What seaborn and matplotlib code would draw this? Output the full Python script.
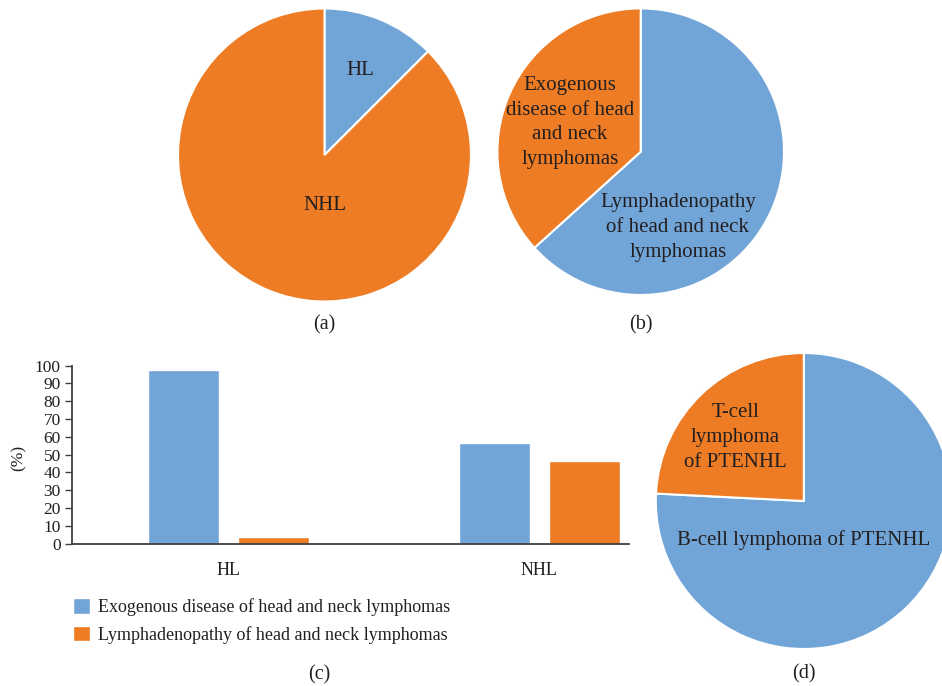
import matplotlib
matplotlib.use("Agg")
import matplotlib.pyplot as plt
import seaborn as sns
import pandas as pd

# ---------------- data ----------------
pie_a_labels = ["HL", "NHL"]
pie_a_values = [12.5, 87.5]

pie_b_labels = ["Lymphadenopathy\nof head and neck\nlymphomas",
                "Exogenous\ndisease of head\nand neck\nlymphomas"]
pie_b_values = [63.3, 36.7]

pie_d_labels = ["B-cell lymphoma of PTENHL", "T-cell\nlymphoma\nof PTENHL"]
pie_d_values = [75.8, 24.2]

bar_categories = ["HL", "NHL"]
bar_series = ["Exogenous disease of head and neck lymphomas",
              "Lymphadenopathy of head and neck lymphomas"]
bar_exogenous = [97.5, 56.5]
bar_lymphaden = [3.6, 46.3]
y_ticks = list(range(0, 101, 10))

panel_labels = ["(a)", "(b)", "(c)", "(d)"]

# ---------------- style ----------------
BLUE = "#72A5D7"
ORANGE = "#ED7C24"
TXT = "#231f20"
sns.set_theme(style="white")
plt.rcParams["font.family"] = ["Liberation Serif", "DejaVu Serif"]
plt.rcParams["text.color"] = TXT

W, H = 942, 686
fig = plt.figure(figsize=(W / 100, H / 100), dpi=100)


def pie_axes(cx, cy, r):
    return fig.add_axes([(cx - r) / W, (H - cy - r) / H, 2 * r / W, 2 * r / H])


def draw_pie(ax, values, colors, labels, label_pos):
    ax.pie(values, colors=colors, startangle=90, counterclock=False, radius=1,
           wedgeprops=dict(edgecolor="white", linewidth=1.5))
    ax.set_xlim(-1, 1)
    ax.set_ylim(-1, 1)
    ax.set_aspect("equal")
    ax.axis("off")
    for lab, (x, y) in zip(labels, label_pos):
        ax.text(x, y, lab, ha="center", va="center", fontsize=15,
                linespacing=1.42, color=TXT)


# (a)
ax_a = pie_axes(324.5, 155, 146.5)
draw_pie(ax_a, pie_a_values, [BLUE, ORANGE], pie_a_labels,
         [(0.247, 0.58), (0.0, -0.346)])

# (b)
ax_b = pie_axes(640.7, 151.7, 143.3)
draw_pie(ax_b, pie_b_values, [BLUE, ORANGE], pie_b_labels,
         [(0.259, -0.531), (-0.495, 0.204)])

# (d)
ax_d = pie_axes(803.8, 501, 148)
draw_pie(ax_d, pie_d_values, [BLUE, ORANGE], pie_d_labels,
         [(-0.003, -0.264), (-0.461, 0.431)])

# (c) bar chart
left, right, top, bottom = 72, 629, 365.7, 543.5
ax_c = fig.add_axes([left / W, (H - bottom) / H, (right - left) / W, (bottom - top) / H])
df = pd.DataFrame({
    "category": bar_categories * 2,
    "series": [bar_series[0]] * len(bar_categories) + [bar_series[1]] * len(bar_categories),
    "value": bar_exogenous + bar_lymphaden,
})
sns.barplot(data=df, x="category", y="value", hue="series", hue_order=bar_series,
            order=bar_categories, palette=[BLUE, ORANGE], width=0.579, gap=0.212,
            saturation=1, ax=ax_c, legend=True)
ax_c.set_xlim(-0.503, 1.288)
ax_c.set_ylim(0, 100)
ax_c.set_yticks(y_ticks)
ax_c.set_yticklabels([str(t) for t in y_ticks])
for s in ["top", "right"]:
    ax_c.spines[s].set_visible(False)
for s in ["left", "bottom"]:
    ax_c.spines[s].set_color("#404040")
    ax_c.spines[s].set_linewidth(1.3)
ax_c.tick_params(axis="y", which="major", left=True, length=5, width=1, color="#404040",
                 pad=3, labelsize=12.5, labelcolor=TXT)
ax_c.tick_params(axis="x", length=0, pad=13, labelsize=13, labelcolor=TXT)
ax_c.set_xlabel("")
ax_c.set_ylabel("(%)", fontsize=12.5, color=TXT)
ax_c.yaxis.set_label_coords(-0.081, 0.48)

handles, labels = ax_c.get_legend_handles_labels()
ax_c.legend(handles, labels, loc="upper left", bbox_to_anchor=(73 / W, (H - 598) / H),
            bbox_transform=fig.transFigure, frameon=False, fontsize=13,
            borderaxespad=0, borderpad=0, handlelength=0.95, handleheight=0.95,
            handletextpad=0.45, labelspacing=0.55)

# panel labels
for lab, (x, y) in zip(panel_labels, [(324, 325), (641, 325), (319, 675), (803.5, 674)]):
    fig.text(x / W, (H - y) / H, lab, ha="center", va="center", fontsize=14.5, color=TXT)

fig.savefig("out.png", dpi=100)
